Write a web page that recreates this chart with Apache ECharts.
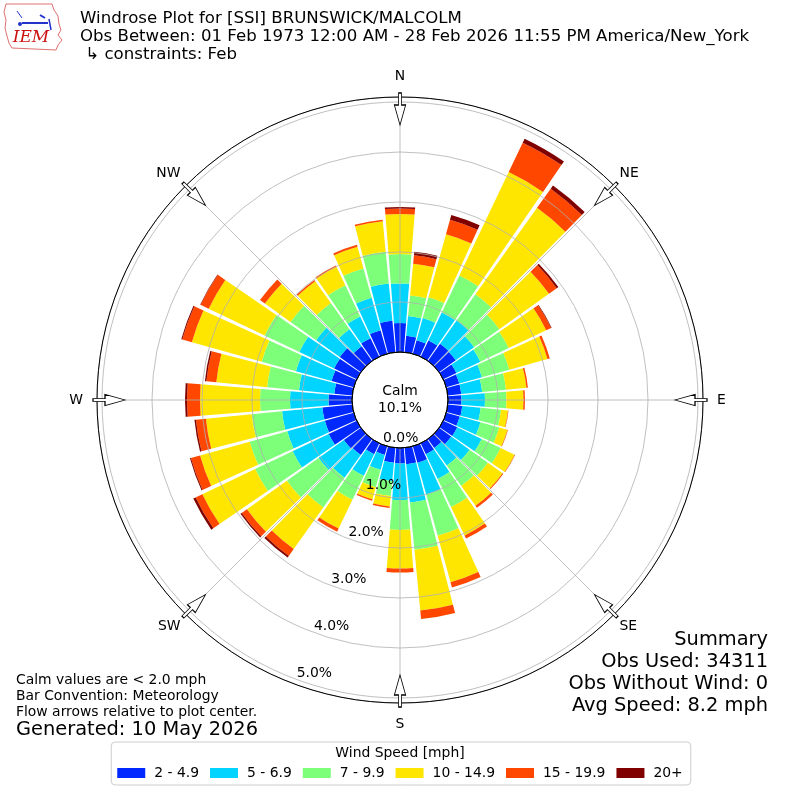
<!DOCTYPE html>
<html>
<head>
<meta charset="utf-8">
<script src="https://cdn.jsdelivr.net/npm/echarts/dist/echarts.min.js"></script>
<style>
html,body{margin:0;padding:0;background:#fff;}
#chart{width:800px;height:800px;}
</style>
</head>
<body>
<div id="chart"></div>
<script>
// ---- data (percent of observations, per 10-degree sector, meteorological convention) ----
const directions = ['0','10','20','30','40','50','60','70','80','90','100','110','120','130','140','150','160','170',
                    '180','190','200','210','220','230','240','250','260','270','280','290','300','310','320','330','340','350'];
const speedBins = ['2 - 4.9', '5 - 6.9', '7 - 9.9', '10 - 14.9', '15 - 19.9', '20+'];
const bin_2_49   = [.58,.33,.28,.36,.42,.41,.29,.27,.27,.27,.29,.28,.31,.30,.22,.24,.34,.33,.31,.30,.18,.24,.39,.42,.62,.60,.60,.47,.36,.46,.50,.52,.36,.41,.49,.63];
const bin_5_69   = [.79,.40,.46,.62,.57,.45,.53,.47,.42,.47,.37,.43,.54,.45,.43,.55,.66,.77,.73,.37,.31,.48,.56,.62,.80,.78,.81,.77,.71,.74,.77,.58,.42,.48,.67,.75];
const bin_7_99   = [.59,.41,.43,.82,.65,.62,.63,.57,.48,.43,.41,.39,.42,.45,.50,.62,.86,.95,.60,.30,.36,.53,.73,.78,.83,.78,.61,.60,.64,.71,.77,.63,.64,.69,.61,.64];
const bin_10_149 = [.80,.64,1.31,2.29,2.12,1.22,.83,.79,.41,.34,.14,.17,.31,.36,.49,.63,.96,1.22,.77,.21,.25,.64,1.02,.98,1.17,1.03,.92,1.20,1.02,1.45,1.24,.63,.54,.41,.45,.61];
const bin_15_199 = [.11,.17,.30,.65,.47,.19,.11,.05,.03,.03,.01,.01,.01,.02,.05,.07,.11,.17,.08,.03,.03,.07,.17,.13,.15,.19,.20,.26,.20,.20,.18,.12,.03,.03,.04,.03];
const bin_20p    = [.03,.07,.10,.09,.08,.04,.01,0,0,0,0,0,0,0,0,0,0,0,0,0,0,0,.04,.03,.05,.02,.03,.04,.03,.02,.01,0,0,0,0,0];
const binData = [bin_2_49, bin_5_69, bin_7_99, bin_10_149, bin_15_199, bin_20p];
const radialTicks = [0, 1, 2, 3, 4, 5];
const compassAngles = [0, 45, 90, 135, 180, 225, 270, 315];
const cardinalNames = {0: 'N', 90: 'E', 180: 'S', 270: 'W'};
const diagonalNames = {0: 'NE', 90: 'SE', 180: 'SW', 270: 'NW'};   // offsets from NE on the diagonal axis
const calmPct = '10.1%';

// ---- styles ----
const colors = ['#0028ff', '#00d4ff', '#7dff7a', '#ffe600', '#ff4700', '#800000'];
const FONT = 'DejaVu Sans';
const RMAX = 5.1;
const ARROW_R = 4.86;   // radial position (in axis units) of the flow arrows

const chart = echarts.init(document.getElementById('chart'), null, {renderer: 'canvas'});

function txt(text, x, y, size, align, extra) {
  return {
    type: 'text', silent: true, z: 20,
    style: Object.assign({
      text: text, x: x, y: y, fontSize: size, fontFamily: FONT, fill: '#000',
      align: align, textAlign: align, verticalAlign: 'middle', textVerticalAlign: 'middle'
    }, extra || {})
  };
}

const barSeries = speedBins.map((name, i) => ({
  name: name,
  type: 'bar',
  coordinateSystem: 'polar',
  polarIndex: 0,
  stack: 'wind',
  data: binData[i],
  barCategoryGap: '10%',
  itemStyle: {color: colors[i]},
  z: 2,
  silent: true
}));

const arrowPath = 'path://M7,0 L12,0 L12,12 L19,12 L9.5,32 L0,12 L7,12 Z';
const arrowSeries = {
  type: 'scatter',
  coordinateSystem: 'polar',
  polarIndex: 1,
  symbol: arrowPath,
  symbolSize: [19, 32],
  symbolKeepAspect: true,
  silent: true,
  z: 10,
  itemStyle: {color: '#ffffff', borderColor: '#000000', borderWidth: 1, opacity: 1},
  data: compassAngles.map(a => ({value: [ARROW_R, a], symbolRotate: -a}))
};

const labelStyle = {color: '#000', fontSize: 13.9, fontFamily: FONT};

const option = {
  animation: false,
  backgroundColor: '#ffffff',
  textStyle: {fontFamily: FONT},
  polar: [
    {center: [400, 400], radius: [48, 303]},
    {center: [400, 400], radius: [48, 303]},
    {center: [400, 400], radius: [36, 291]},
    {center: [400, 400], radius: [0, 48]},
    {center: [400, 400], radius: [48, 303]}
  ],
  angleAxis: [
    {polarIndex: 0, type: 'category', data: directions, startAngle: 95, clockwise: true, boundaryGap: true,
     axisLine: {show: false}, axisTick: {show: false}, axisLabel: {show: false}, splitLine: {show: false}},
    {polarIndex: 1, type: 'value', min: 0, max: 360, interval: 45, startAngle: 90, clockwise: true, z: 5,
     axisLine: {show: true, lineStyle: {color: '#000', width: 1}},
     axisTick: {show: false},
     axisLabel: Object.assign({show: true, margin: 14,
       formatter: v => (v < 359 && cardinalNames[Math.round(v)]) || ''}, labelStyle),
     splitLine: {show: true, lineStyle: {color: '#b0b0b0', width: 0.8}}},
    {polarIndex: 2, type: 'value', min: 0, max: 360, startAngle: 249.8, clockwise: true,
     axisLine: {show: false}, axisTick: {show: false}, axisLabel: {show: false}, splitLine: {show: false}},
    {polarIndex: 3, type: 'value', min: 0, max: 360, startAngle: 90, z: 6,
     axisLine: {show: true, lineStyle: {color: '#000', width: 1}},
     axisTick: {show: false}, axisLabel: {show: false}, splitLine: {show: false}},
    {polarIndex: 4, type: 'value', min: 0, max: 360, interval: 90, startAngle: 45, clockwise: true, z: 6,
     axisLine: {show: false}, axisTick: {show: false}, splitLine: {show: false},
     axisLabel: Object.assign({show: true, margin: 7.5,
       formatter: v => (v < 359 && diagonalNames[Math.round(v)]) || ''}, labelStyle)}
  ],
  radiusAxis: [
    {polarIndex: 0, type: 'value', min: 0, max: RMAX, show: false},
    {polarIndex: 1, type: 'value', min: 0, max: RMAX, interval: 1, z: 5,
     axisLine: {show: false}, axisTick: {show: false}, axisLabel: {show: false},
     splitLine: {show: true, lineStyle: {color: '#b0b0b0', width: 0.8}}},
    {polarIndex: 2, type: 'value', min: 0, max: RMAX, interval: 1, z: 7,
     axisLine: {show: false}, axisTick: {show: false}, splitLine: {show: false},
     axisLabel: Object.assign({show: true, margin: 14, align: 'center', verticalAlign: 'middle',
       formatter: v => radialTicks.indexOf(Math.round(v * 100) / 100) >= 0 ? v.toFixed(1) + '%' : ''}, labelStyle)},
    {polarIndex: 3, type: 'value', min: 0, max: 1, show: false},
    {polarIndex: 4, type: 'value', min: 0, max: RMAX, show: false}
  ],
  legend: {
    data: speedBins,
    top: 742, left: 'center',
    icon: 'rect', itemWidth: 28, itemHeight: 10, itemGap: 11,
    selectedMode: false,
    padding: [24, 8, 5, 6],
    borderColor: '#cccccc', borderWidth: 1, borderRadius: 4,
    textStyle: {fontSize: 13.9, color: '#000', fontFamily: FONT, padding: [0, 0, 0, 4]}
  },
  series: barSeries.concat([arrowSeries]),
  graphic: [
    // IEM logo (decorative)
    {type: 'polygon', silent: true, z: 20,
     shape: {points: [[6,4],[52,4],[54,10],[58,16],[59,24],[61,30],[58,35],[62,40],[58,45],[56,50],[12,48],[9,43],[7,36],[5,28],[6,20],[4,12]]},
     style: {fill: '#ffffff', stroke: '#e07070', lineWidth: 1}},
    {type: 'line', silent: true, z: 21, shape: {x1: 17, y1: 11, x2: 22, y2: 18}, style: {stroke: '#2233cc', lineWidth: 1}},
    {type: 'line', silent: true, z: 21, shape: {x1: 22, y1: 23, x2: 48, y2: 23}, style: {stroke: '#2233cc', lineWidth: 2}},
    {type: 'line', silent: true, z: 21, shape: {x1: 40, y1: 15, x2: 45, y2: 18}, style: {stroke: '#2233cc', lineWidth: 2}},
    {type: 'line', silent: true, z: 21, shape: {x1: 49, y1: 19, x2: 51, y2: 30}, style: {stroke: '#2233cc', lineWidth: 1.5}},
    {type: 'circle', silent: true, z: 21, shape: {cx: 20, cy: 24, r: 2}, style: {fill: '#2233cc'}},
    txt('IEM', 31, 38, 17, 'center', {fontFamily: 'DejaVu Serif', fontStyle: 'italic', fill: '#cc1111'}),
    // Titles
    txt('Windrose Plot for [SSI] BRUNSWICK/MALCOLM', 80, 19, 16.6, 'left'),
    txt('Obs Between: 01 Feb 1973 12:00 AM - 28 Feb 2026 11:55 PM America/New_York', 80, 37, 16.6, 'left'),
    txt(' \u21b3 constraints: Feb', 80, 55, 16.6, 'left'),
    // Calm
    txt('Calm', 400, 391, 13.9, 'center'),
    txt(calmPct, 400, 408, 13.9, 'center'),
    // Notes
    txt('Calm values are < 2.0 mph', 16, 680, 13.9, 'left'),
    txt('Bar Convention: Meteorology', 16, 696, 13.9, 'left'),
    txt('Flow arrows relative to plot center.', 16, 712, 13.9, 'left'),
    txt('Generated: 10 May 2026', 16, 730, 19.4, 'left'),
    // Summary
    txt('Summary', 768, 640, 19.4, 'right'),
    txt('Obs Used: 34311', 768, 662, 19.4, 'right'),
    txt('Obs Without Wind: 0', 768, 684, 19.4, 'right'),
    txt('Avg Speed: 8.2 mph', 768, 706, 19.4, 'right'),
    // Legend title
    txt('Wind Speed [mph]', 400, 753, 13.9, 'center')
  ]
};
chart.setOption(option);
</script>
</body>
</html>
